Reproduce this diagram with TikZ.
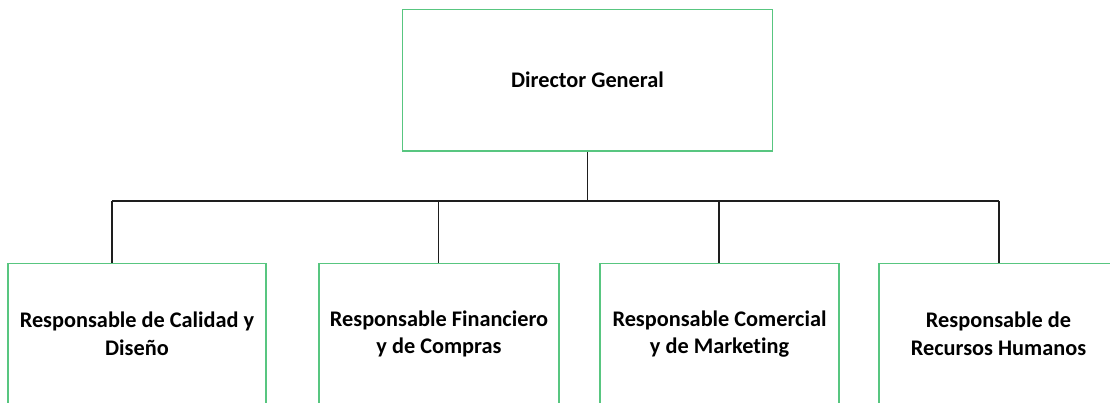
\documentclass[tikz,border=0pt]{standalone}
\usepackage{fontspec}
\setmainfont[Ligatures={NoCommon}]{Carlito}
\definecolor{boxgreen}{RGB}{88,198,128}
\definecolor{linegray}{RGB}{30,30,30}
\tikzset{
  box/.style={draw=boxgreen, line width=1.6pt, fill=white, inner sep=0pt,
    align=center, font=\fontsize{22.3}{27.5}\selectfont\bfseries},
  conn/.style={draw=linegray, line width=1.5pt}
}
\begin{document}
\begin{tikzpicture}[x=1pt,y=-1pt]
\useasboundingbox (0,0) rectangle (1110,403);
\node[box, minimum width=370pt, minimum height=141.5pt] (dg) at (587.5,80.25) {Director General};
\node[box, minimum width=258pt, minimum height=141pt] (b1) at (137,334) {Responsable de Calidad y\\Diseño};
\node[box, minimum width=240pt, minimum height=141pt] (b2) at (439,334) {Responsable Financiero\\y de Compras};
\node[box, minimum width=239pt, minimum height=141pt] (b3) at (719.5,334) {Responsable Comercial\\y de Marketing};
\node[box, minimum width=239pt, minimum height=141pt] (b4) at (998.5,334) {Responsable de\\Recursos Humanos};
\coordinate (bus) at (587.7,201);
\coordinate (j1) at (112,201);
\coordinate (j2) at (438.7,201);
\coordinate (j3) at (719,201);
\coordinate (j4) at (999,201);
\draw[conn] (dg.south -| bus) -- (bus);
\draw[conn] (j1) -- (j4);
\draw[conn] (j1) -- (j1 |- b1.north);
\draw[conn] (j2) -- (j2 |- b2.north);
\draw[conn] (j3) -- (j3 |- b3.north);
\draw[conn] (j4) -- (j4 |- b4.north);
\end{tikzpicture}
\end{document}
